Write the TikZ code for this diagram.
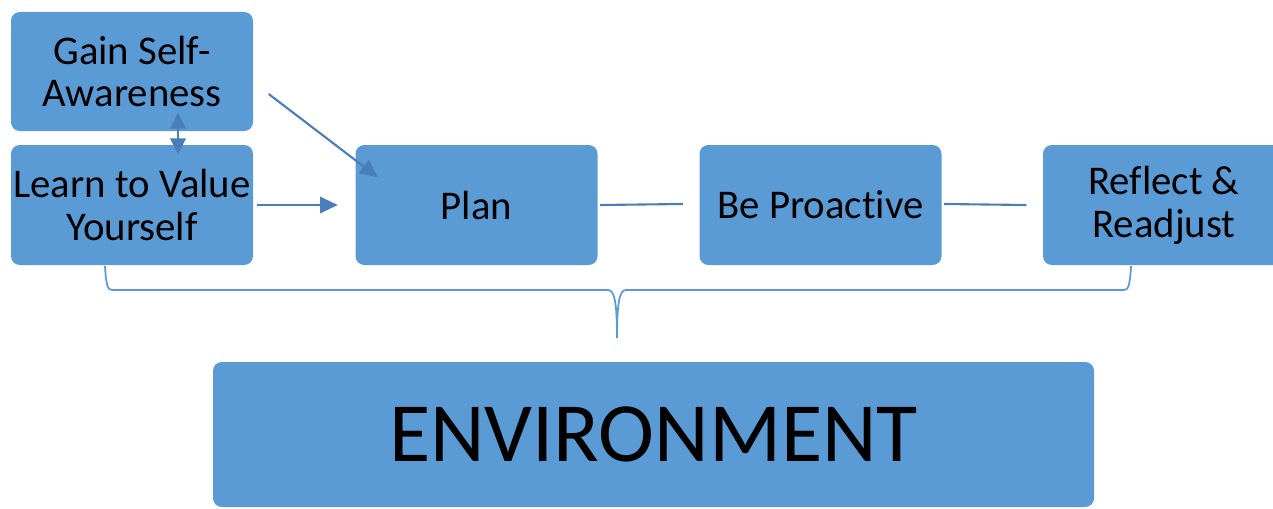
\documentclass[tikz,border=0pt]{standalone}
\usepackage{fontspec}
\setmainfont{Carlito}[Ligatures=NoCommon]
\usepackage{xcolor}
\usetikzlibrary{arrows.meta}
\definecolor{boxblue}{HTML}{5B9BD5}
\definecolor{linkblue}{HTML}{4A7EBB}

\begin{document}
\begin{tikzpicture}[x=1cm,y=-1cm,
    stage/.style={fill=boxblue,rounded corners=2.5pt,inner sep=0pt,align=center,
        minimum width=2.42cm,minimum height=1.2cm,font=\fontsize{11.6}{12.2}\selectfont},
    link/.style={linkblue,line width=0.6pt},
    arr/.style={link,-{Triangle[length=5pt,width=4.6pt]}},
    dbl/.style={link,{Triangle[length=4.5pt,width=4.4pt]}-{Triangle[length=4.5pt,width=4.4pt]}}]
            \useasboundingbox (0,0) rectangle (12.73,5.08);
            \node[stage,minimum height=1.19cm] (gain) at (1.32,0.715){Gain Self-\\Awareness};
            \node[stage] (learn) at (1.32,2.05){Learn to Value\\Yourself};
            \node[stage] (plan) at (4.765,2.05){Plan};
            \node[stage] (proactive) at (8.205,2.05){Be Proactive};
            \node[stage] (reflect) at (11.64,2.05){Reflect \&\\Readjust};
            \node[stage,minimum width=8.81cm,minimum height=1.45cm,font=\fontsize{24}{26}\selectfont] (env) at (6.535,4.345){ENVIRONMENT};

            \draw[dbl] ([xshift=0.46cm,yshift=0.19cm]gain.south) -- ([xshift=0.46cm,yshift=-0.10cm]learn.north);
            \draw[arr] ([xshift=0.15cm,yshift=-0.225cm]gain.east) -- ([xshift=0.23cm,yshift=-0.33cm]plan.north west);
            \draw[arr] ([xshift=0.03cm]learn.east) -- ([xshift=-0.17cm]plan.west);
            \draw[link] ([xshift=0.02cm]plan.east) -- ([xshift=-0.16cm,yshift=0.01cm]proactive.west);
            \draw[link] ([xshift=0.02cm,yshift=0.01cm]proactive.east) -- ([xshift=-0.16cm]reflect.west);

            \draw[boxblue,line width=0.5pt] (1.05,2.66) .. controls (1.06,2.86) and (1.08,2.90) .. (1.12,2.90)
                -- (6.08,2.90) .. controls (6.14,2.90) and (6.17,3.0) .. (6.17,3.38)
                .. controls (6.17,3.0) and (6.20,2.90) .. (6.26,2.90)
                -- (11.24,2.90) .. controls (11.28,2.90) and (11.30,2.86) .. (11.31,2.66);
        \end{tikzpicture}
\end{document}
